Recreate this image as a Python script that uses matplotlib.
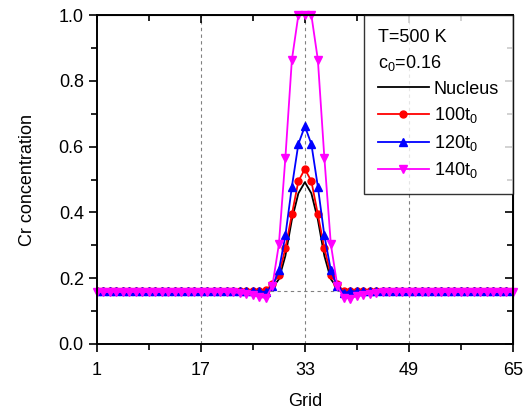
import numpy as np
import matplotlib
matplotlib.use("Agg")
import matplotlib.pyplot as plt
from matplotlib.ticker import MultipleLocator, FixedLocator

plt.rcParams['font.family'] = ['Liberation Sans', 'DejaVu Sans']
plt.rcParams['mathtext.fontset'] = 'custom'
plt.rcParams['mathtext.rm'] = 'Liberation Sans'
plt.rcParams['mathtext.it'] = 'Liberation Sans'

grid = np.arange(1, 66)
c0 = 0.16

# values around the peak, grid 27..39
peak_grid = [27, 28, 29, 30, 31, 32, 33, 34, 35, 36, 37, 38, 39]
nucleus_peak = [0.160, 0.170, 0.197, 0.268, 0.378, 0.458, 0.492, 0.458, 0.378, 0.268, 0.197, 0.170, 0.160]
t100_peak = [0.163, 0.182, 0.210, 0.291, 0.394, 0.495, 0.532, 0.495, 0.394, 0.291, 0.210, 0.182, 0.160]
t120_peak = [0.158, 0.175, 0.224, 0.330, 0.478, 0.608, 0.662, 0.608, 0.478, 0.330, 0.224, 0.175, 0.155]
t140_peak = [0.140, 0.177, 0.303, 0.566, 0.864, 1.000, 1.000, 1.000, 0.864, 0.566, 0.303, 0.177, 0.141]

# magenta dip on both sides of the peak
t140_dip_left = {22: 0.157, 23: 0.155, 24: 0.152, 25: 0.148, 26: 0.143}
t140_dip_right = {40: 0.138, 41: 0.146, 42: 0.150, 43: 0.153, 44: 0.156}


def build(peak, flat, extra=None):
    y = np.full(grid.shape, flat, dtype=float)
    for g, v in zip(peak_grid, peak):
        y[g - 1] = v
    if extra:
        for g, v in extra.items():
            y[g - 1] = v
    return y


nucleus = build(nucleus_peak, c0)
t100 = build(t100_peak, c0)
t120 = build(t120_peak, c0)
t140 = build(t140_peak, 0.158, {**t140_dip_left, **t140_dip_right})

fig = plt.figure(figsize=(5.27, 4.19), dpi=100)
ax = fig.add_axes([0.184, 0.179, 0.789, 0.785])

for xv in [17, 33, 49]:
    ax.axvline(xv, color='gray', ls=(0, (3, 3)), lw=0.8, zorder=0)
ax.axhline(c0, color='gray', ls=(0, (3, 3)), lw=0.8, zorder=0)

ax.plot(grid, nucleus, color='black', lw=1.3, label='Nucleus')
ax.plot(grid, t100, color='red', lw=1.3, marker='o', ms=5, label='100t$_0$')
ax.plot(grid, t120, color='blue', lw=1.3, marker='^', ms=6, label='120t$_0$')
ax.plot(grid, t140, color='magenta', lw=1.3, marker='v', ms=6, label='140t$_0$', clip_on=False)

ax.set_xlim(1, 65)
ax.set_ylim(0, 1.0)
ax.xaxis.set_major_locator(FixedLocator([1, 17, 33, 49, 65]))
ax.xaxis.set_minor_locator(FixedLocator([9, 25, 41, 57]))
ax.yaxis.set_major_locator(MultipleLocator(0.2))
ax.yaxis.set_minor_locator(MultipleLocator(0.1))
ax.yaxis.set_major_formatter(matplotlib.ticker.FormatStrFormatter('%.1f'))

ax.tick_params(which='both', direction='out', labelsize=13, width=1.2)
ax.tick_params(axis='x', which='major', pad=7)
ax.tick_params(which='major', length=6)
ax.tick_params(which='minor', length=4)
for sp in ax.spines.values():
    sp.set_linewidth(1.4)
# inward ticks on top and right
ax2 = ax.secondary_xaxis('top')
ax2.xaxis.set_major_locator(FixedLocator([1, 17, 33, 49, 65]))
ax2.xaxis.set_minor_locator(FixedLocator([9, 25, 41, 57]))
ax2.tick_params(which='both', direction='in', labeltop=False, width=1.2)
ax2.tick_params(which='major', length=6)
ax2.tick_params(which='minor', length=4)
ax3 = ax.secondary_yaxis('right')
ax3.yaxis.set_major_locator(MultipleLocator(0.2))
ax3.yaxis.set_minor_locator(MultipleLocator(0.1))
ax3.tick_params(which='both', direction='in', labelright=False, width=1.2)
ax3.tick_params(which='major', length=6)
ax3.tick_params(which='minor', length=4)

ax.set_xlabel('Grid', fontsize=13, labelpad=10)
ax.set_ylabel('Cr concentration', fontsize=13, labelpad=16)

leg = ax.legend(title='T=500 K\nc$_0$=0.16', loc='upper right', fontsize=13,
                title_fontsize=13, alignment='left', frameon=True, fancybox=False,
                edgecolor='black', borderaxespad=0, handlelength=2.8,
                handletextpad=0.3, labelspacing=0.42, borderpad=0.75)
leg.get_title().set_linespacing(1.5)
leg.get_frame().set_linewidth(1.0)
leg.set_zorder(5)

fig.savefig('out.png', dpi=100)
